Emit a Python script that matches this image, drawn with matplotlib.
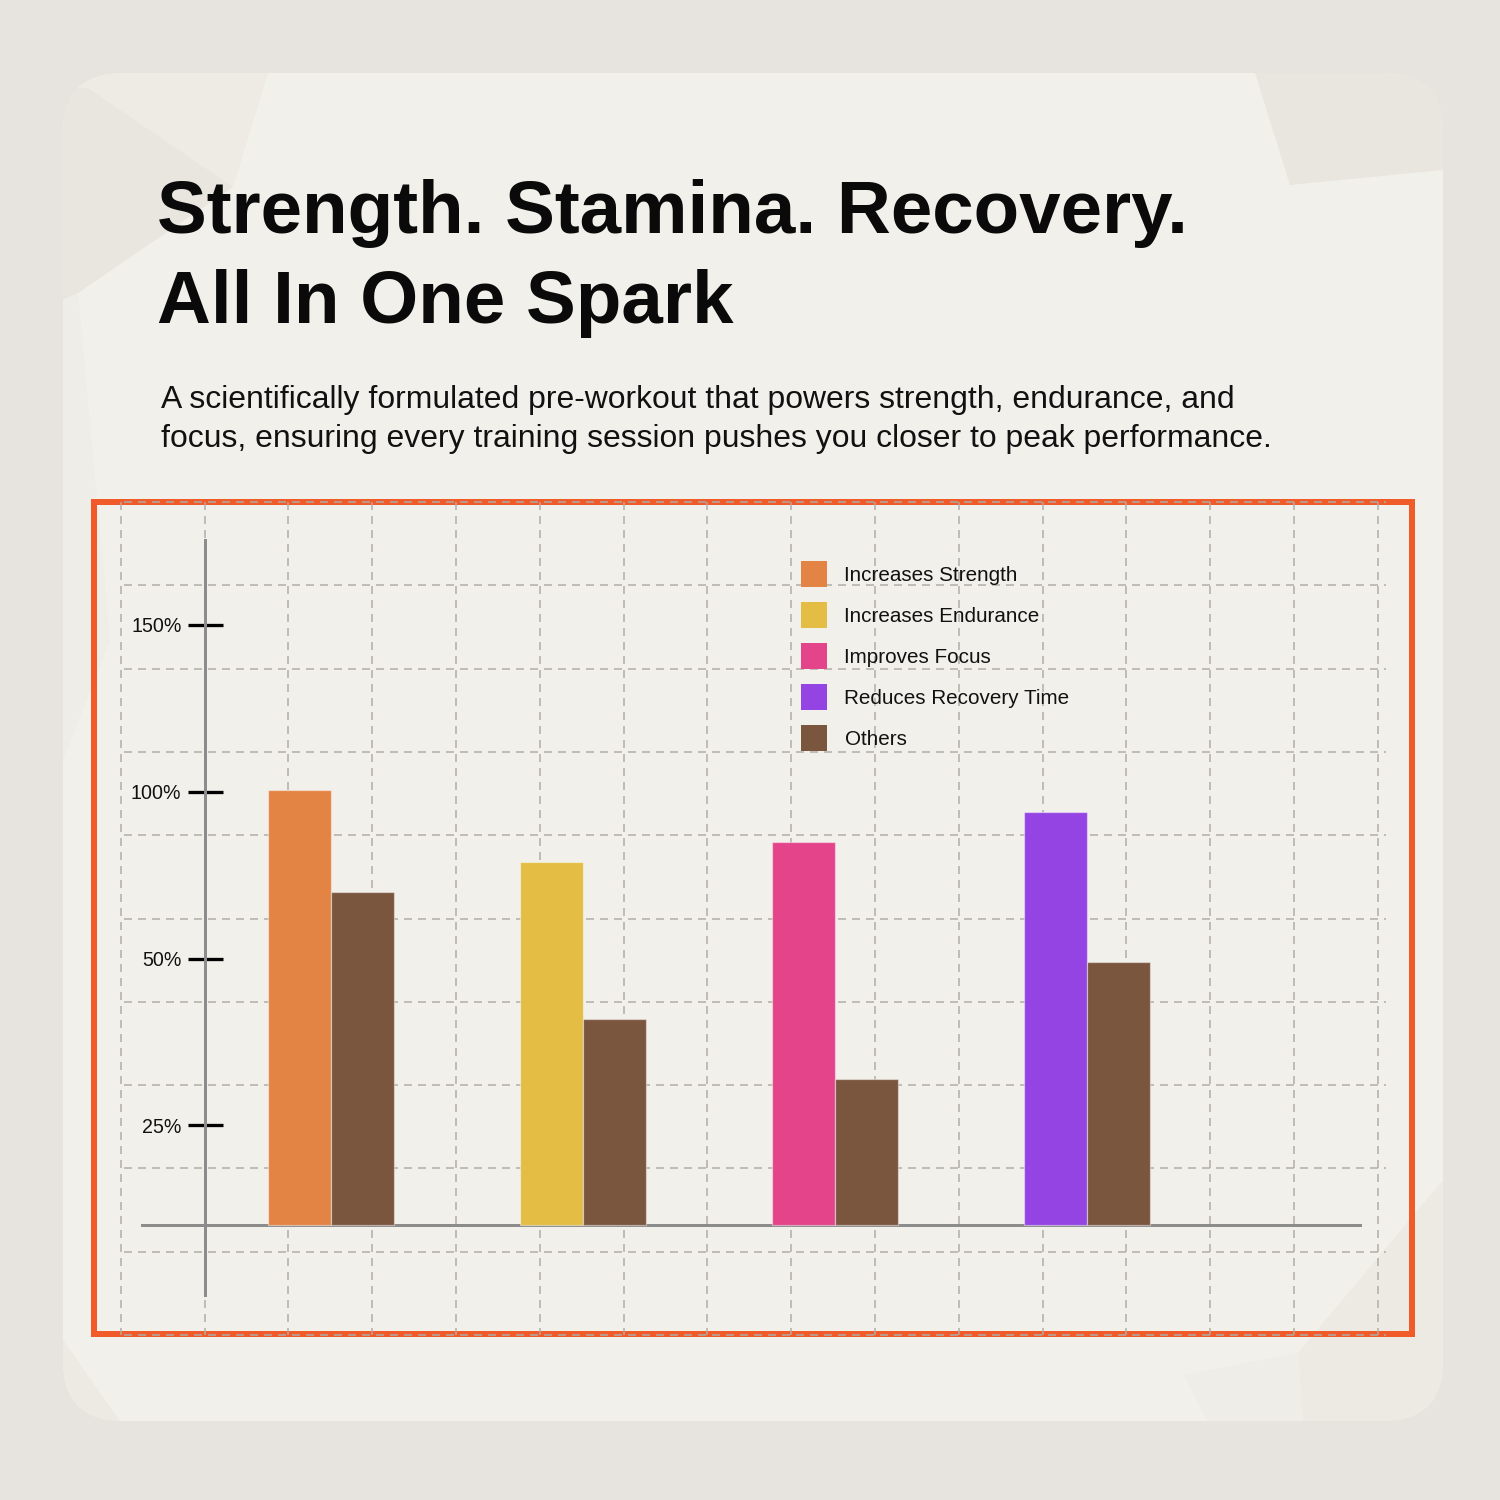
import matplotlib
matplotlib.use('Agg')
import matplotlib.pyplot as plt
from matplotlib.patches import FancyBboxPatch, Rectangle, Polygon
from matplotlib.lines import Line2D
import numpy as np

plt.rcParams['font.family'] = ['Liberation Sans', 'DejaVu Sans']
plt.rcParams['lines.scale_dashes'] = False

# ---------------- data ----------------
title_lines = ["Strength. Stamina. Recovery.", "All In One Spark"]
subtitle_lines = [
    "A scientifically formulated pre-workout that powers strength, endurance, and",
    "focus, ensuring every training session pushes you closer to peak performance.",
]
benefits = ["Increases Strength", "Increases Endurance", "Improves Focus", "Reduces Recovery Time"]
benefit_values = [100.0, 83.5, 88.2, 94.9]
others_label = "Others"
others_values = [76.5, 47.5, 33.6, 60.6]
ytick_values = [23.0, 61.3, 99.6, 138.0]
ytick_labels = ["25%", "50%", "100%", "150%"]

benefit_colors = ['#e38444', '#e3bd44', '#e3448a', '#9444e3']
others_color = '#7a563e'

# ---------------- figure / background ----------------
PX = 72 / 150  # points per pixel
fig = plt.figure(figsize=(10, 10), dpi=150)
fig.patch.set_facecolor('#e7e4df')
bg = fig.add_axes([0, 0, 1, 1], zorder=0)
bg.set_xlim(0, 1500)
bg.set_ylim(1500, 0)
bg.axis('off')

card = FancyBboxPatch((123, 133), 1260, 1228, boxstyle='round,pad=60,rounding_size=60',
                      fc='#f2f0ea', ec='none', zorder=1)
bg.add_patch(card)

facets = [
    ([(63, 73), (268, 73), (233, 187), (88, 88), (63, 88)], '#eeebe5'),
    ([(63, 88), (88, 88), (233, 187), (78, 293), (63, 300)], '#e9e6e0'),
    ([(1255, 73), (1290, 185), (1443, 170), (1443, 73)], '#e9e6e0'),
    ([(63, 300), (78, 293), (110, 640), (63, 760)], '#efede7'),
    ([(1298, 1353), (1443, 1180), (1443, 1421), (1303, 1421)], '#edeae4'),
    ([(1184, 1375), (1298, 1353), (1303, 1421), (1207, 1421)], '#efede7'),
    ([(63, 1340), (120, 1421), (63, 1421)], '#edeae4'),
]
for pts, col in facets:
    p = Polygon(pts, closed=True, fc=col, ec='none', zorder=1.5)
    p.set_clip_path(card)
    bg.add_patch(p)

# chart frame
bg.add_patch(Rectangle((94, 502), 1318, 832, fill=False, ec='#f15a29', lw=6 * PX, zorder=2))

# dashed grid
for gx in np.linspace(120.7, 1377.7, 16):
    bg.plot([gx, gx], [502, 1335], color='#b0aca6', lw=1.5 * PX, dashes=(8 * PX, 6 * PX), zorder=3)
for gy in np.linspace(502, 1335, 11):
    bg.plot([124, 1386], [gy, gy], color='#b0aca6', lw=1.5 * PX, dashes=(8 * PX, 6 * PX), zorder=3)

# titles
title_baselines = [233, 323]
for line, yb in zip(title_lines, title_baselines):
    bg.text(157, yb, line, fontsize=35.8, fontweight='bold', color='#0a0a0a', va='baseline', ha='left', zorder=5)
sub_baselines = [408, 447]
for line, yb in zip(subtitle_lines, sub_baselines):
    bg.text(161, yb, line, fontsize=15.3, color='#111111', va='baseline', ha='left', zorder=5)

# ---------------- chart ----------------
ax = fig.add_axes([142 / 1500, (1500 - 1295) / 1500, (1360 - 142) / 1500, (1295 - 540) / 1500], zorder=2)
ax.set_facecolor('none')
x = np.arange(len(benefits))
w = 0.25
ax.bar(x - w / 2, benefit_values, w, color=benefit_colors, edgecolor=(1, 1, 1, 0.45), linewidth=0.6, zorder=3)
ax.bar(x + w / 2, others_values, w, color=others_color, edgecolor=(1, 1, 1, 0.45), linewidth=0.6, zorder=3)
ax.set_xlim(-0.75, 4.085)
ax.set_ylim(-16.0, 157.5)

for s in ['top', 'right']:
    ax.spines[s].set_visible(False)
ax.spines['left'].set_position(('data', -0.5))
ax.spines['bottom'].set_position(('data', 0))
for s in ['left', 'bottom']:
    ax.spines[s].set_color('#8c8c8c')
    ax.spines[s].set_linewidth(3 * PX)
    ax.spines[s].set_zorder(2)
ax.set_xticks([])
ax.set_yticks(ytick_values, ytick_labels)
ax.tick_params(axis='y', direction='inout', length=35 * PX, width=3.3 * PX, color='black',
               pad=6 * PX, labelsize=9.4, labelcolor='#111111')

handles = [Line2D([], [], ls='', marker='s', markersize=27 * PX, markeredgewidth=0, color=c)
           for c in benefit_colors + [others_color]]
labels = benefits + [others_label]
ax.legend(handles, labels, loc='upper left', bbox_to_anchor=(800 / 1500, 1 - 566 / 1500),
          bbox_transform=fig.transFigure, frameon=False, fontsize=9.9, borderpad=0, borderaxespad=0,
          handlelength=27 * PX / 9.9, handletextpad=17.5 * PX / 9.9, labelspacing=1.07,
          labelcolor='#111111')

fig.savefig('out.png', dpi=150, facecolor=fig.get_facecolor())
